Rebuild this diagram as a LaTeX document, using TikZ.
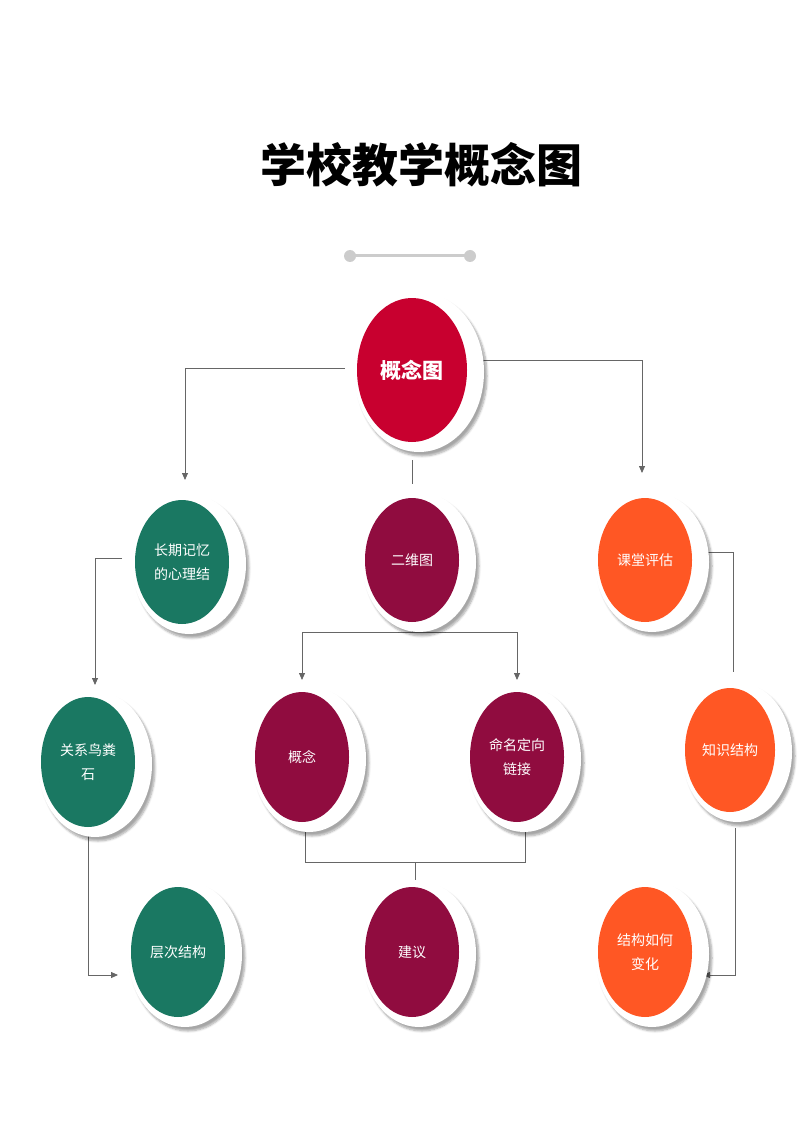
\documentclass[tikz,border=0pt]{standalone}
\usepackage{fontspec}
\setmainfont{Noto Sans CJK SC}
\usetikzlibrary{shapes.geometric,arrows.meta,shadows.blur}
\definecolor{cred}{HTML}{C8002F}
\definecolor{cmar}{HTML}{900C3F}
\definecolor{cgrn}{HTML}{1A7862}
\definecolor{corg}{HTML}{FF5724}
\definecolor{cline}{HTML}{666666}
\tikzset{
  bubble/.style={ellipse,inner sep=0pt,text=white,font=\fontsize{14}{24}\selectfont,align=center},
  ring/.style={ellipse,fill=white,inner sep=0pt,blur shadow={shadow xshift=3pt,shadow yshift=-4pt,shadow blur steps=6,shadow opacity=35}},
  conn/.style={draw=cline,line width=0.8pt},
  arr/.style={conn,-{Triangle[length=7pt,width=6pt]}}
}
\newcommand\bub[7]{%
  \node[ring,minimum width=#4*2+20pt,minimum height=#5*2+16pt] at (#2+7,#3+2) {};
  \node[bubble,fill=#6,minimum width=#4*2,minimum height=#5*2] (#1) at (#2,#3) {#7};}
\begin{document}
\begin{tikzpicture}[x=1pt,y=-1pt]
\useasboundingbox (0,0) rectangle (800,1131);
\node[font=\fontsize{46}{50}\selectfont\bfseries] (title) at (421,165) {学校教学概念图};
\draw[draw=black!20,line width=3pt] (350,256) -- (470,256);
\fill[black!20] (350,256) circle (6) (470,256) circle (6);
% connectors (drawn first)
\coordinate (tl) at (345,368);
\coordinate (tr) at (482,360);
\draw[arr] (tl) -| (185,480);
\draw[arr] (tr) -| (642,473);
\draw[conn] (412,460) -- (412,484);
\draw[conn] (412,620) -- (412,632);
\draw[arr] (412,632) -| (302,680);
\draw[arr] (412,632) -| (517,680);
\draw[arr] (122,558) -| (95,685);
\draw[arr] (88,825) |- (118,975);
\draw[conn] (305,820) |- (525,862) -- (525,820);
\draw[conn] (415,862) -- (415,880);
\draw[conn] (705,552) -| (733,672);
\draw[arr] (735,828) |- (703,975);
% bubbles
\bub{top}{412}{370}{55}{72}{cred}{\fontsize{21}{24}\selectfont\bfseries 概念图}
\bub{ltm}{182}{562}{47}{62}{cgrn}{长期记忆\\的心理结}
\bub{tdm}{412}{560}{47}{62}{cmar}{二维图}
\bub{cae}{645}{560}{47}{62}{corg}{课堂评估}
\bub{rel}{88}{762}{47}{65}{cgrn}{关系鸟粪\\石}
\bub{con}{302}{757}{47}{65}{cmar}{概念}
\bub{nam}{517}{757}{47}{65}{cmar}{命名定向\\链接}
\bub{kno}{730}{750}{45}{62}{corg}{知识结构}
\bub{hie}{178}{952}{47}{65}{cgrn}{层次结构}
\bub{sug}{412}{952}{47}{65}{cmar}{建议}
\bub{chg}{645}{952}{47}{65}{corg}{结构如何\\变化}
\end{tikzpicture}
\end{document}
